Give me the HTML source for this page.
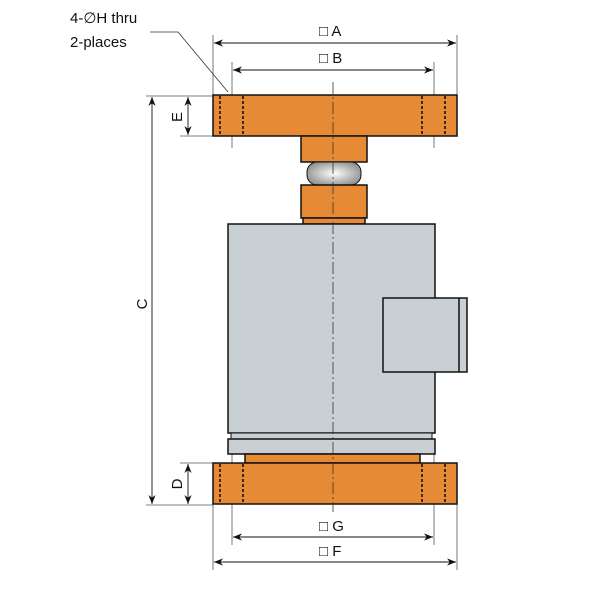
<!DOCTYPE html>
<html><head><style>body{margin:0;background:#fff}svg{display:block}</style></head><body>
<svg width="600" height="600" viewBox="0 0 600 600" xmlns="http://www.w3.org/2000/svg" font-family="Liberation Sans, sans-serif">
<defs>
<marker id="ar" viewBox="0 0 10 10" refX="10" refY="5" markerUnits="userSpaceOnUse" markerWidth="13" markerHeight="9" orient="auto-start-reverse"><path d="M0,1 L10,5 L0,9 L3,5z" fill="#111"/></marker>
<radialGradient id="ball" cx="0.5" cy="0.5" r="0.6"><stop offset="0" stop-color="#fff"/><stop offset="1" stop-color="#888"/></radialGradient>
</defs>
<g stroke="#555" stroke-width="0.8" fill="none">
<line x1="213" y1="35" x2="213" y2="95"/><line x1="457" y1="35" x2="457" y2="95"/>
<line x1="232" y1="62" x2="232" y2="148"/><line x1="434" y1="62" x2="434" y2="148"/>
<line x1="232" y1="454" x2="232" y2="545"/><line x1="434" y1="454" x2="434" y2="545"/>
<line x1="213" y1="504" x2="213" y2="570"/><line x1="457" y1="504" x2="457" y2="570"/>
<line x1="146" y1="96" x2="213" y2="96"/><line x1="146" y1="505" x2="213" y2="505"/>
<line x1="180" y1="136" x2="213" y2="136"/><line x1="180" y1="463" x2="213" y2="463"/>
<polyline points="150,32 178,32 228,92" stroke="#333"/>
</g>
<g stroke="#111" stroke-width="0.9" marker-start="url(#ar)" marker-end="url(#ar)">
<line x1="214" y1="43" x2="456" y2="43"/>
<line x1="233" y1="70" x2="433" y2="70"/>
<line x1="233" y1="537" x2="433" y2="537"/>
<line x1="214" y1="562" x2="456" y2="562"/>
<line x1="152" y1="97" x2="152" y2="504"/>
<line x1="188" y1="97" x2="188" y2="135"/>
<line x1="188" y1="464" x2="188" y2="504"/>
</g>
<g stroke="#111" stroke-width="1.5">
<rect x="213" y="95" width="244" height="41" fill="#e68a35"/>
<rect x="301" y="136" width="66" height="26" fill="#e68a35"/>
<rect x="307" y="162" width="54" height="23" rx="10" fill="url(#ball)" stroke-width="1"/>
<rect x="301" y="185" width="66" height="33" fill="#e68a35"/>
<rect x="303" y="218" width="62" height="6" fill="#e68a35"/>
<rect x="228" y="224" width="207" height="209" fill="#c9d0d4"/>
<rect x="383" y="298" width="84" height="74" fill="#c9d0d4"/>
<line x1="459" y1="298" x2="459" y2="372"/>
<rect x="231" y="433" width="201" height="6" fill="#c9d0d4" stroke-width="1"/>
<rect x="228" y="439" width="207" height="15" fill="#c9d0d4"/>
<rect x="245" y="454" width="175" height="9" fill="#e68a35"/>
<rect x="213" y="463" width="244" height="41" fill="#e68a35"/>
</g>
<g stroke="#111" stroke-width="1.6" stroke-dasharray="3,2">
<line x1="220" y1="96" x2="220" y2="135"/><line x1="243" y1="96" x2="243" y2="135"/>
<line x1="422" y1="96" x2="422" y2="135"/><line x1="445" y1="96" x2="445" y2="135"/>
<line x1="220" y1="464" x2="220" y2="503"/><line x1="243" y1="464" x2="243" y2="503"/>
<line x1="422" y1="464" x2="422" y2="503"/><line x1="445" y1="464" x2="445" y2="503"/>
</g>
<line x1="333" y1="82" x2="333" y2="512" stroke="#333" stroke-width="0.8" stroke-dasharray="12,3,2,3"/>
<g font-size="15" fill="#111">
<text x="70" y="23">4-∅H thru</text>
<text x="70" y="47">2-places</text>
<text x="319" y="36">□ A</text>
<text x="319" y="63">□ B</text>
<text x="319" y="531">□ G</text>
<text x="319" y="556">□ F</text>
<text transform="translate(147,304) rotate(-90)" text-anchor="middle">C</text>
<text transform="translate(182,117) rotate(-90)" text-anchor="middle">E</text>
<text transform="translate(182,484) rotate(-90)" text-anchor="middle">D</text>
</g>
</svg>
</body></html>
